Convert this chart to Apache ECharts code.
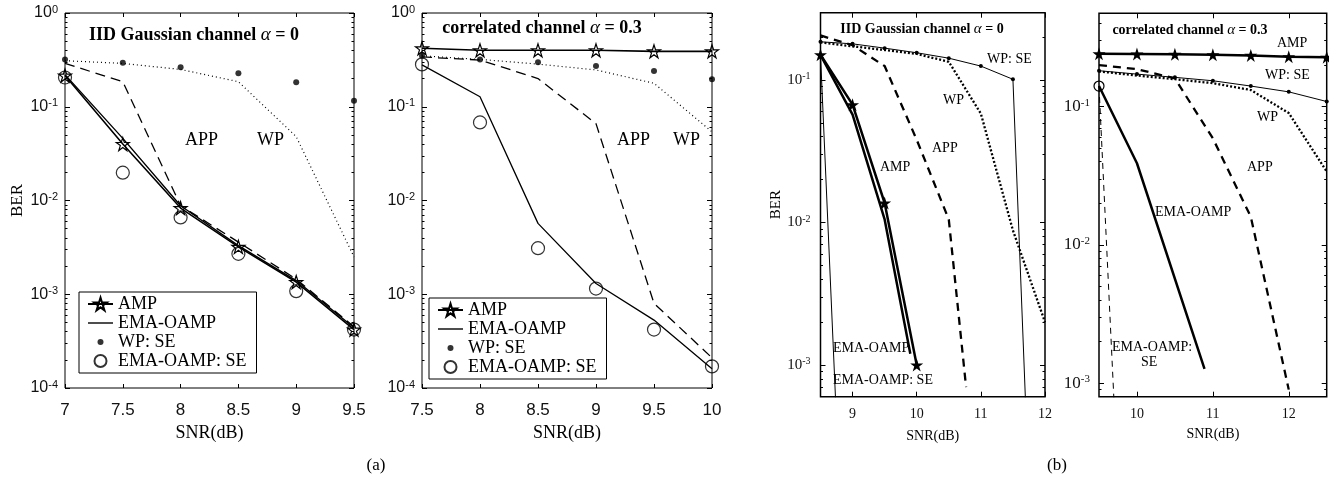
<!DOCTYPE html>
<html><head><meta charset="utf-8">
<script src="https://cdn.jsdelivr.net/npm/echarts@6/dist/echarts.min.js"></script>
<style>html,body{margin:0;padding:0;background:#fff}#c{width:1329px;height:479px}</style>
</head><body><div id="c"></div>
<script>
// ================= DATA =================
// (a) left: IID Gaussian channel alpha = 0
const snrA1 = [7, 7.5, 8, 8.5, 9, 9.5];
const a1_AMP   = [0.215, 0.040, 0.0083, 0.0032, 0.00135, 0.00042];
const a1_EMA   = [0.22, 0.046, 0.0088, 0.0033, 0.0014, 0.00044];
const a1_APP   = [0.29, 0.185, 0.0088, 0.0036, 0.00145, 0.00045];
const a1_WP    = [0.31, 0.29, 0.25, 0.185, 0.048, 0.0025];
const a1_WPSE  = [0.32, 0.295, 0.264, 0.227, 0.182, 0.116];
const a1_EMASE = [0.205, 0.0198, 0.0066, 0.0027, 0.00108, 0.00042];
// (a) right: correlated channel alpha = 0.3
const snrA2 = [7.5, 8, 8.5, 9, 9.5, 10];
const a2_AMP   = [0.42, 0.40, 0.40, 0.40, 0.39, 0.39];
const a2_EMA   = [0.28, 0.128, 0.0057, 0.0013, 0.00053, 0.00016];
const a2_APP   = [0.34, 0.315, 0.2, 0.066, 0.0008, 0.00021];
const a2_WP    = [0.35, 0.32, 0.285, 0.247, 0.178, 0.054];
const a2_WPSE  = [0.35, 0.32, 0.298, 0.272, 0.24, 0.196];
const a2_EMASE = [0.283, 0.068, 0.0031, 0.00115, 0.00042, 0.00017];
// (b) left: IID Gaussian channel alpha = 0
const b1_WPSE_x  = [8.5, 9, 9.5, 10, 10.5, 11, 11.5, 11.7];
const b1_WPSE_y  = [0.185, 0.179, 0.167, 0.155, 0.142, 0.125, 0.101, 0.0005];
const b1_WP_x    = [8.5, 9, 9.5, 10, 10.5, 11, 11.5, 12];
const b1_WP_y    = [0.183, 0.172, 0.162, 0.152, 0.134, 0.058, 0.0088, 0.002];
const b1_APP_x   = [8.5, 9, 9.5, 10, 10.5, 10.77];
const b1_APP_y   = [0.205, 0.175, 0.125, 0.038, 0.0105, 0.0007];
const b1_AMP_x   = [8.5, 9, 9.5, 10];
const b1_AMP_y   = [0.15, 0.067, 0.0137, 0.001];
const b1_EMA_x   = [8.5, 9, 9.5, 9.9];
const b1_EMA_y   = [0.15, 0.057, 0.0105, 0.0012];
const b1_EMASE_x = [8.5, 8.75];
const b1_EMASE_y = [0.15, 0.0004];
// (b) right: correlated channel alpha = 0.3
const b2_x       = [9.5, 10, 10.5, 11, 11.5, 12, 12.5];
const b2_AMP_y   = [0.241, 0.24, 0.239, 0.237, 0.235, 0.23, 0.228];
const b2_WPSE_y  = [0.182, 0.172, 0.163, 0.154, 0.141, 0.128, 0.109];
const b2_WP_y    = [0.18, 0.168, 0.158, 0.148, 0.132, 0.09, 0.034];
const b2_APP_x   = [9.5, 10, 10.5, 11, 11.5, 12];
const b2_APP_y   = [0.2, 0.187, 0.16, 0.059, 0.016, 0.0009];
const b2_EMA_x   = [9.5, 10, 10.89];
const b2_EMA_y   = [0.141, 0.039, 0.00127];
const b2_EMASE_x = [9.5, 9.7];
const b2_EMASE_y = [0.141, 0.0007];

// tick labels
const xTicksA1 = [7, 7.5, 8, 8.5, 9, 9.5];
const xTicksA2 = [7.5, 8, 8.5, 9, 9.5, 10];
const xTicksB1 = [9, 10, 11, 12];
const xTicksB2 = [10, 11, 12];
const yTicksA = [1e-4, 1e-3, 1e-2, 1e-1, 1];
const yTicksB = [1e-3, 1e-2, 1e-1];
const legendNames = ['AMP', 'EMA-OAMP', 'WP: SE', 'EMA-OAMP: SE'];

// ================= STYLE =================
const SERIF = 'Liberation Serif', SANS = 'Liberation Sans';
const STAR = 'path://M50 0L61.2 34.5L97.6 34.5L68.2 55.9L79.4 90.5L50 69.1L20.6 90.5L31.8 55.9L2.4 34.5L38.8 34.5Z';
const DOT = 'path://M0 0M16 16M5 8A3 3 0 1 0 11 8A3 3 0 1 0 5 8Z';
const RING = 'path://M0 0M16 16M2 8A6 6 0 1 0 14 8A6 6 0 1 0 2 8Z';
const BAR = 'path://M0 0M25 16M0 7.3L25 7.3L25 8.7L0 8.7Z';
const TICKCOLOR = '#000';
const grids = [
  {left: 65, top: 13, width: 289, height: 375, borderWidth: 1},
  {left: 422, top: 13, width: 290, height: 375, borderWidth: 1},
  {left: 820.5, top: 12.7, width: 224.5, height: 384, borderWidth: 1.5},
  {left: 1099, top: 13.3, width: 227.7, height: 383.4, borderWidth: 1.5}
];
const xs = [
  {min: 7, max: 9.5, t: xTicksA1, font: SANS, size: 17, margin: 14, nsize: 18, ngap: 36, tl: 4},
  {min: 7.5, max: 10, t: xTicksA2, font: SANS, size: 17, margin: 14, nsize: 18, ngap: 36, tl: 4},
  {min: 8.5, max: 12, t: xTicksB1, font: SERIF, size: 14, margin: 11, nsize: 14, ngap: 33, tl: 5},
  {min: 9.5, max: 12.5, t: xTicksB2, font: SERIF, size: 14, margin: 11, nsize: 14, ngap: 31, tl: 5}
];
const ys = [
  {min: 1e-4, max: 1, t: yTicksA, font: SANS, size: 16, sup: 11, margin: 7, name: 'BER', nsize: 17, ngap: 39},
  {min: 1e-4, max: 1, t: yTicksA, font: SANS, size: 16, sup: 11, margin: 7, name: '', nsize: 17, ngap: 39},
  {min: 6.0e-4, max: 0.296, t: yTicksB, font: SERIF, size: 15, sup: 10, margin: 10, name: 'BER', nsize: 15, ngap: 35},
  {min: 8.0e-4, max: 0.4735, t: yTicksB, font: SERIF, size: 17, sup: 11, margin: 9, name: '', nsize: 15, ngap: 35}
];
function minors(min, max) {
  const out = [];
  for (let k = -5; k <= 0; k++) for (let m = 2; m <= 9; m++) {
    const v = Number((m * Math.pow(10, k)).toPrecision(3));
    if (v > min * 1.001 && v < max * 0.999) out.push(v);
  }
  return out;
}
const tick = (len, vals) => ({show: true, inside: true, length: len, customValues: vals.slice(), lineStyle: {color: TICKCOLOR, width: 1}});
const xAxis = [], yAxis = [];
xs.forEach((a, g) => {
  xAxis.push({type: 'value', gridIndex: g, position: 'bottom', min: a.min, max: a.max,
    axisLine: {show: false, onZero: false}, splitLine: {show: false},
    axisTick: tick(a.tl, a.t),
    axisLabel: {customValues: a.t.slice(), margin: a.margin, color: '#111', fontFamily: a.font, fontSize: a.size},
    name: 'SNR(dB)', nameLocation: 'middle', nameGap: a.ngap,
    nameTextStyle: {fontFamily: SERIF, fontSize: a.nsize, color: '#000'}});
  xAxis.push({type: 'value', gridIndex: g, position: 'top', min: a.min, max: a.max,
    axisLine: {show: false, onZero: false}, splitLine: {show: false},
    axisTick: tick(a.tl, a.t), axisLabel: {show: false}});
});
ys.forEach((a, g) => {
  const mn = minors(a.min, a.max);
  const base = () => ({type: 'log', logBase: 10, gridIndex: g, min: a.min, max: a.max,
    axisLine: {show: false, onZero: false}, splitLine: {show: false}});
  const main = base();
  Object.assign(main, {position: 'left', axisTick: tick(5, a.t),
    axisLabel: {customValues: a.t.slice(), margin: a.margin,
      formatter: v => '{b|10}{s|' + Math.round(Math.log10(v)) + '}',
      rich: {b: {fontFamily: a.font, fontSize: a.size, color: '#111', lineHeight: a.size + 2},
             s: {fontFamily: a.font, fontSize: a.sup, color: '#111', verticalAlign: 'top', lineHeight: 8}}}});
  if (a.name) Object.assign(main, {name: a.name, nameLocation: 'middle', nameGap: a.ngap,
    nameTextStyle: {fontFamily: SERIF, fontSize: a.nsize, color: '#000'}});
  yAxis.push(main);
  yAxis.push(Object.assign(base(), {position: 'left', axisTick: tick(2.5, mn), axisLabel: {show: false}}));
  yAxis.push(Object.assign(base(), {position: 'right', axisTick: tick(5, a.t), axisLabel: {show: false}}));
  yAxis.push(Object.assign(base(), {position: 'right', axisTick: tick(2.5, mn), axisLabel: {show: false}}));
});

function pairs(x, y) { return x.map((v, i) => [v, y[i]]); }
function line(g, name, x, y, ls, extra) {
  return Object.assign({type: 'line', name, xAxisIndex: 2 * g, yAxisIndex: 4 * g, data: pairs(x, y),
    symbol: 'none', clip: true, animation: false, silent: true,
    lineStyle: Object.assign({color: '#000', width: 1.5}, ls), itemStyle: {color: '#000'}}, extra || {});
}
function scatter(g, name, x, y, sym, size, item) {
  return {type: 'scatter', name, xAxisIndex: 2 * g, yAxisIndex: 4 * g, data: pairs(x, y),
    symbol: sym, symbolSize: size, animation: false, silent: true, itemStyle: item};
}
const hollow = () => ({color: 'rgba(255,255,255,0)', borderColor: '#000', borderWidth: 1.2});
const series = [
  // (a) left
  line(0, 'AMP', snrA1, a1_AMP, {width: 1.6}, {symbol: STAR, symbolSize: 13, showSymbol: true, itemStyle: hollow()}),
  line(0, 'EMA-OAMP', snrA1, a1_EMA, {width: 1.4}),
  line(0, 'APP', snrA1, a1_APP, {width: 1.3, type: [10, 6]}),
  line(0, 'WP', snrA1, a1_WP, {width: 1.2, type: [1, 3]}),
  scatter(0, 'WP: SE', snrA1, a1_WPSE, 'circle', 6, {color: '#000'}),
  scatter(0, 'EMA-OAMP: SE', snrA1, a1_EMASE, 'circle', 13, hollow()),
  // (a) right
  line(1, 'AMP', snrA2, a2_AMP, {width: 1.6}, {symbol: STAR, symbolSize: 13, showSymbol: true, itemStyle: hollow()}),
  line(1, 'EMA-OAMP', snrA2, a2_EMA, {width: 1.3}),
  line(1, 'APP', snrA2, a2_APP, {width: 1.3, type: [10, 6]}),
  line(1, 'WP', snrA2, a2_WP, {width: 1.2, type: [1, 3]}),
  scatter(1, 'WP: SE', snrA2, a2_WPSE, 'circle', 6, {color: '#000'}),
  scatter(1, 'EMA-OAMP: SE', snrA2, a2_EMASE, 'circle', 13, hollow()),
  // (b) left
  line(2, 'WP: SE', b1_WPSE_x, b1_WPSE_y, {width: 1}, {symbol: 'circle', symbolSize: 4, showSymbol: true,
    data: pairs(b1_WPSE_x, b1_WPSE_y).map((p, i) => i === b1_WPSE_x.length - 1 ? {value: p, symbol: 'none'} : p)}),
  line(2, 'WP', b1_WP_x, b1_WP_y, {width: 2.3, type: [2, 2]}),
  line(2, 'APP', b1_APP_x, b1_APP_y, {width: 2.3, type: [8, 6]}),
  line(2, 'EMA-OAMP: SE', b1_EMASE_x, b1_EMASE_y, {width: 1}),
  line(2, 'EMA-OAMP', b1_EMA_x, b1_EMA_y, {width: 2.5}),
  line(2, 'AMP', b1_AMP_x, b1_AMP_y, {width: 2.5}, {symbol: STAR, symbolSize: 13, showSymbol: true, itemStyle: {color: '#000'}}),
  // (b) right
  line(3, 'AMP', b2_x, b2_AMP_y, {width: 2.5}, {symbol: STAR, symbolSize: 13, showSymbol: true, itemStyle: {color: '#000'}}),
  line(3, 'WP: SE', b2_x, b2_WPSE_y, {width: 1}, {symbol: 'circle', symbolSize: 4, showSymbol: true}),
  line(3, 'WP', b2_x, b2_WP_y, {width: 2.3, type: [2, 2]}),
  line(3, 'APP', b2_APP_x, b2_APP_y, {width: 2.3, type: [8, 6]}),
  line(3, 'EMA-OAMP', b2_EMA_x, b2_EMA_y, {width: 2.5}),
  line(3, 'EMA-OAMP: SE', b2_EMASE_x, b2_EMASE_y, {width: 1, type: [6, 5]}, {symbol: 'circle', symbolSize: 10, showSymbol: true,
    itemStyle: hollow(), data: pairs(b2_EMASE_x, b2_EMASE_y).map((p, i) => i === 0 ? p : {value: p, symbol: 'none'})})
];

function legend(left, top) {
  return {left, top, orient: 'vertical', align: 'left', selectedMode: false,
    backgroundColor: '#fff', borderColor: '#000', borderWidth: 1, borderRadius: 0,
    padding: [3, 10, 3, 8], itemGap: 1, itemWidth: 25, itemHeight: 16,
    textStyle: {fontFamily: SERIF, fontSize: 18, color: '#000'},
    data: [{name: legendNames[0]}, {name: legendNames[1], icon: BAR},
           {name: legendNames[2], icon: DOT}, {name: legendNames[3], icon: RING}]};
}
function txt(x, y, text, size, align) {
  return {type: 'text', x, y, silent: true, z: 50,
    style: {text, fontFamily: SERIF, fontSize: size, fill: '#000', align: align || 'left', verticalAlign: 'middle'}};
}
function title(x, y, head, tail, size) {
  return {type: 'text', x, y, silent: true, z: 50, style: {
    text: '{b|' + head + '}{i|α}{b| = ' + tail + '}', align: 'center', verticalAlign: 'middle',
    rich: {b: {fontFamily: SERIF, fontSize: size, fontWeight: 'bold', fill: '#000'},
           i: {fontFamily: SERIF, fontSize: size + 1, fontStyle: 'italic', fill: '#000'}}}};
}
const graphic = [
  title(194, 35, 'IID Gaussian channel ', '0', 18),
  title(542, 28, 'correlated channel ', '0.3', 18),
  title(922, 29, 'IID Gaussian channel ', '0', 14),
  title(1190, 30, 'correlated channel ', '0.3', 14),
  txt(185, 140, 'APP', 18), txt(257, 140, 'WP', 18),
  txt(617, 140, 'APP', 18), txt(673, 140, 'WP', 18),
  txt(987, 59, 'WP: SE', 14), txt(943, 100, 'WP', 14), txt(932, 148, 'APP', 14), txt(880, 167, 'AMP', 14),
  txt(833, 348, 'EMA-OAMP', 14), txt(833, 380, 'EMA-OAMP: SE', 14),
  txt(1277, 43, 'AMP', 14), txt(1265, 75, 'WP: SE', 14), txt(1257, 117, 'WP', 14), txt(1247, 167, 'APP', 14),
  txt(1155, 212, 'EMA-OAMP', 14), txt(1112, 347, 'EMA-OAMP:', 14), txt(1141, 362, 'SE', 14),
  txt(376, 466, '(a)', 17, 'center'),
  txt(1057, 466, '(b)', 17, 'center')
];

const chart = echarts.init(document.getElementById('c'), null, {renderer: 'canvas'});
chart.setOption({
  animation: false,
  backgroundColor: '#fff',
  grid: grids.map(g => Object.assign({show: true, borderColor: '#000', backgroundColor: 'transparent'}, g)),
  xAxis, yAxis, series,
  legend: [legend(79, 292), legend(429, 298)],
  graphic
});
</script></body></html>
